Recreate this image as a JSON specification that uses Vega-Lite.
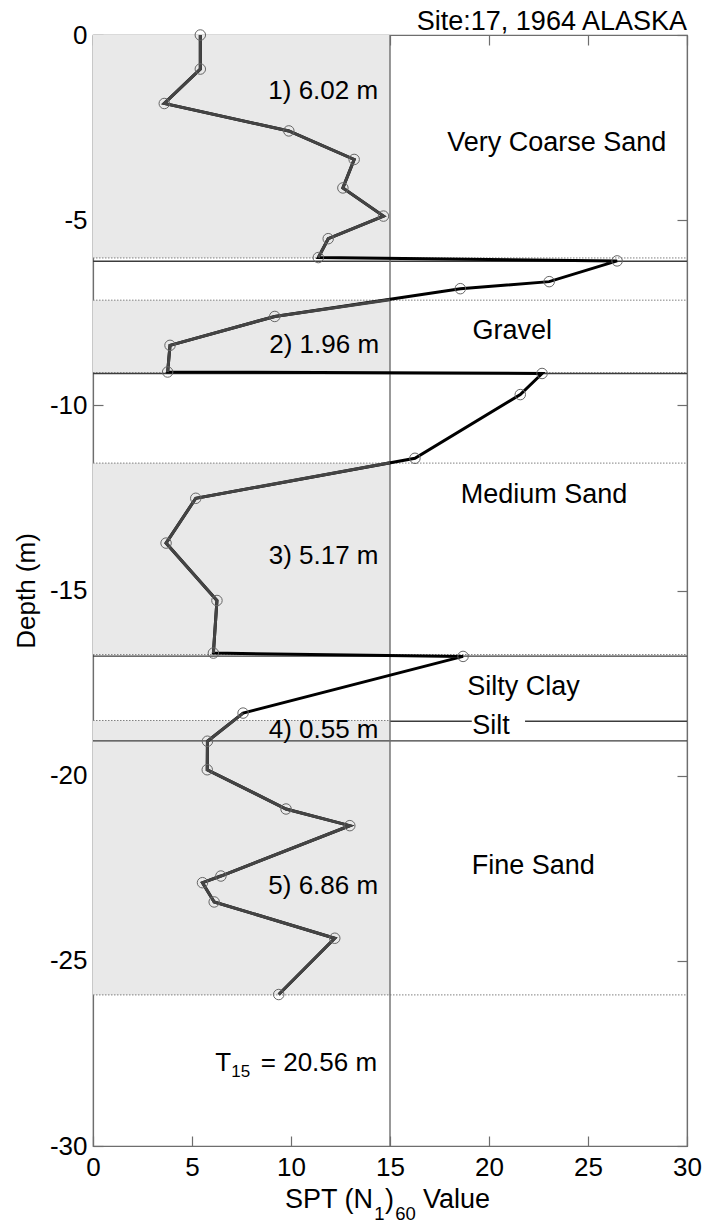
{
  "$schema": "https://vega.github.io/schema/vega-lite/v6.json",
  "width": 594,
  "height": 1111,
  "autosize": "none",
  "padding": {"left": 93, "top": 35, "right": 18, "bottom": 78},
  "background": "white",
  "config": {
    "view": {"stroke": "#6e6e6e", "strokeWidth": 1.2},
    "font": "Liberation Sans",
    "axis": {"labelFontSize": 26, "labelFont": "Liberation Sans", "labelColor": "black", "tickColor": "#6e6e6e", "domainColor": "#6e6e6e", "titleFont": "Liberation Sans", "titleFontSize": 26, "titleFontWeight": "normal", "titleColor": "black", "grid": false, "tickSize": -10, "zindex": 1, "labelFlush": false, "labelOverlap": false, "tickWidth": 1.2, "domainWidth": 1.2}
  },
  "datasets": {
    "layers": [
      {"n0": 0, "n1": 15, "top": 0, "bot": -6.02},
      {"n0": 0, "n1": 15, "top": -7.16, "bot": -9.12},
      {"n0": 0, "n1": 15, "top": -11.56, "bot": -16.73},
      {"n0": 0, "n1": 15, "top": -18.51, "bot": -19.06},
      {"n0": 0, "n1": 15, "top": -19.06, "bot": -25.92}
    ],
    "dotted": [
      {"d": -6.02, "a": 0, "b": 30},
      {"d": -7.16, "a": 0, "b": 30},
      {"d": -9.12, "a": 0, "b": 30},
      {"d": -11.56, "a": 0, "b": 30},
      {"d": -16.73, "a": 0, "b": 30},
      {"d": -18.51, "a": 0, "b": 15},
      {"d": -25.92, "a": 0, "b": 30}
    ],
    "solid": [
      {"d": -6.11, "a": 0, "b": 30},
      {"d": -9.14, "a": 0, "b": 30},
      {"d": -16.77, "a": 0, "b": 30},
      {"d": -19.06, "a": 0, "b": 30},
      {"d": -18.53, "a": 15, "b": 19.13},
      {"d": -18.53, "a": 21.82, "b": 30}
    ],
    "vline": [{"n": 15}],
    "profile": [
      {"i": 1, "n": 5.42, "d": 0},
      {"i": 2, "n": 5.42, "d": -0.92},
      {"i": 3, "n": 3.6, "d": -1.85},
      {"i": 4, "n": 9.89, "d": -2.59},
      {"i": 5, "n": 13.19, "d": -3.36},
      {"i": 6, "n": 12.62, "d": -4.13},
      {"i": 7, "n": 14.67, "d": -4.89},
      {"i": 8, "n": 11.88, "d": -5.5},
      {"i": 9, "n": 11.38, "d": -6.01},
      {"i": 10, "n": 26.47, "d": -6.1},
      {"i": 11, "n": 23.04, "d": -6.66},
      {"i": 12, "n": 18.55, "d": -6.85},
      {"i": 13, "n": 9.18, "d": -7.6},
      {"i": 14, "n": 3.89, "d": -8.38},
      {"i": 15, "n": 3.77, "d": -9.1},
      {"i": 16, "n": 22.68, "d": -9.14},
      {"i": 17, "n": 21.58, "d": -9.71},
      {"i": 18, "n": 16.26, "d": -11.43},
      {"i": 19, "n": 5.19, "d": -12.51},
      {"i": 20, "n": 3.69, "d": -13.72},
      {"i": 21, "n": 6.26, "d": -15.27},
      {"i": 22, "n": 6.08, "d": -16.69},
      {"i": 23, "n": 18.69, "d": -16.78},
      {"i": 24, "n": 7.58, "d": -18.31},
      {"i": 25, "n": 5.78, "d": -19.07},
      {"i": 26, "n": 5.77, "d": -19.84},
      {"i": 27, "n": 9.75, "d": -20.9},
      {"i": 28, "n": 12.97, "d": -21.35},
      {"i": 29, "n": 6.46, "d": -22.71},
      {"i": 30, "n": 5.53, "d": -22.89},
      {"i": 31, "n": 6.12, "d": -23.41},
      {"i": 32, "n": 12.21, "d": -24.39},
      {"i": 33, "n": 9.38, "d": -25.91}
    ],
    "grayparts": [
      {"g": 1, "i": 1, "n": 5.42, "d": 0},
      {"g": 1, "i": 2, "n": 5.42, "d": -0.92},
      {"g": 1, "i": 3, "n": 3.6, "d": -1.85},
      {"g": 1, "i": 4, "n": 9.89, "d": -2.59},
      {"g": 1, "i": 5, "n": 13.19, "d": -3.36},
      {"g": 1, "i": 6, "n": 12.62, "d": -4.13},
      {"g": 1, "i": 7, "n": 14.67, "d": -4.89},
      {"g": 1, "i": 8, "n": 11.88, "d": -5.5},
      {"g": 1, "i": 9, "n": 11.38, "d": -6.01},
      {"g": 2, "i": 12.5, "n": 15, "d": -7.15},
      {"g": 2, "i": 13, "n": 9.18, "d": -7.6},
      {"g": 2, "i": 14, "n": 3.89, "d": -8.38},
      {"g": 2, "i": 15, "n": 3.77, "d": -9.1},
      {"g": 3, "i": 18.5, "n": 15, "d": -11.55},
      {"g": 3, "i": 19, "n": 5.19, "d": -12.51},
      {"g": 3, "i": 20, "n": 3.69, "d": -13.72},
      {"g": 3, "i": 21, "n": 6.26, "d": -15.27},
      {"g": 3, "i": 22, "n": 6.08, "d": -16.69},
      {"g": 4, "i": 24, "n": 7.58, "d": -18.31},
      {"g": 4, "i": 25, "n": 5.78, "d": -19.07},
      {"g": 4, "i": 26, "n": 5.77, "d": -19.84},
      {"g": 4, "i": 27, "n": 9.75, "d": -20.9},
      {"g": 4, "i": 28, "n": 12.97, "d": -21.35},
      {"g": 4, "i": 29, "n": 6.46, "d": -22.71},
      {"g": 4, "i": 30, "n": 5.53, "d": -22.89},
      {"g": 4, "i": 31, "n": 6.12, "d": -23.41},
      {"g": 4, "i": 32, "n": 12.21, "d": -24.39},
      {"g": 4, "i": 33, "n": 9.38, "d": -25.91}
    ],
    "heading": [{"label": "Site:17, 1964 ALASKA", "n": 30, "d": 0.135}],
    "soil": [
      {"label": "Very Coarse Sand", "n": 23.42, "d": -2.92},
      {"label": "Gravel", "n": 21.18, "d": -7.98},
      {"label": "Medium Sand", "n": 22.78, "d": -12.42},
      {"label": "Silty Clay", "n": 21.74, "d": -17.61},
      {"label": "Silt", "n": 20.1, "d": -18.67},
      {"label": "Fine Sand", "n": 22.24, "d": -22.45}
    ],
    "thick": [
      {"label": "1) 6.02 m", "n": 14.4, "d": -1.51},
      {"label": "2) 1.96 m", "n": 14.45, "d": -8.37},
      {"label": "3) 5.17 m", "n": 14.42, "d": -14.08},
      {"label": "4) 0.55 m", "n": 14.42, "d": -18.78},
      {"label": "5) 6.86 m", "n": 14.4, "d": -22.98}
    ],
    "tbig": [{"label": "T", "n": 6.17, "d": -27.97}],
    "tsub": [{"label": "15", "n": 6.98, "d": -28.14}],
    "tval": [{"label": "= 20.56 m", "n": 14.35, "d": -27.97}],
    "xtmain": [
      {"label": "SPT (N", "n": 9.7, "d": -31.68},
      {"label": ")", "n": 14.75, "d": -31.68},
      {"label": "Value", "n": 16.67, "d": -31.68}
    ],
    "xtsub": [
      {"label": "1", "n": 14.2, "d": -32.0},
      {"label": "60", "n": 15.26, "d": -32.0}
    ]
  },
  "layer": [
    {
      "data": {"name": "layers"},
      "mark": {"type": "rect", "color": "#e9e9e9"},
      "encoding": {
        "x": {"field": "n0", "type": "quantitative", "scale": {"domain": [0, 30]}, "axis": {"orient": "bottom", "values": [0, 5, 10, 15, 20, 25, 30], "labelPadding": 18, "title": null}},
        "x2": {"field": "n1"},
        "y": {"field": "top", "type": "quantitative", "scale": {"domain": [-30, 0]}, "axis": {"orient": "left", "values": [0, -5, -10, -15, -20, -25, -30], "labelPadding": 16, "title": "Depth (m)", "titlePadding": 10, "labelExpr": "datum.value == 0 ? '0' : '-' + abs(datum.value)"}},
        "y2": {"field": "bot"}
      }
    },
    {
      "data": {"name": "dotted"},
      "mark": {"type": "rule", "color": "#808080", "strokeWidth": 1, "strokeDash": [1.5, 1.5]},
      "encoding": {
        "x": {"field": "a", "type": "quantitative", "scale": {"domain": [0, 30]}, "axis": null},
        "x2": {"field": "b"},
        "y": {"field": "d", "type": "quantitative", "scale": {"domain": [-30, 0]}, "axis": null}
      }
    },
    {
      "data": {"name": "solid"},
      "mark": {"type": "rule", "color": "#3c3c3c", "strokeWidth": 1.3},
      "encoding": {
        "x": {"field": "a", "type": "quantitative", "scale": {"domain": [0, 30]}, "axis": null},
        "x2": {"field": "b"},
        "y": {"field": "d", "type": "quantitative", "scale": {"domain": [-30, 0]}, "axis": null}
      }
    },
    {
      "data": {"name": "vline"},
      "mark": {"type": "rule", "color": "#6e6e6e", "strokeWidth": 1.4},
      "encoding": {
        "x": {"field": "n", "type": "quantitative", "scale": {"domain": [0, 30]}, "axis": null}
      }
    },
    {
      "data": {"name": "profile"},
      "mark": {"type": "line", "color": "#000000", "strokeWidth": 3},
      "encoding": {
        "x": {"field": "n", "type": "quantitative", "scale": {"domain": [0, 30]}, "axis": {"orient": "top", "values": [0, 5, 10, 15, 20, 25, 30], "labels": false, "title": null}},
        "y": {"field": "d", "type": "quantitative", "scale": {"domain": [-30, 0]}, "axis": {"orient": "right", "values": [0, -5, -10, -15, -20, -25, -30], "labels": false, "title": null}},
        "order": {"field": "i", "type": "quantitative"}
      }
    },
    {
      "data": {"name": "grayparts"},
      "mark": {"type": "line", "color": "#444444", "strokeWidth": 3},
      "encoding": {
        "x": {"field": "n", "type": "quantitative", "scale": {"domain": [0, 30]}, "axis": null},
        "y": {"field": "d", "type": "quantitative", "scale": {"domain": [-30, 0]}, "axis": null},
        "detail": {"field": "g", "type": "nominal"},
        "order": {"field": "i", "type": "quantitative"}
      }
    },
    {
      "data": {"name": "profile"},
      "mark": {"type": "point", "shape": "circle", "filled": false, "stroke": "#666666", "strokeWidth": 1, "size": 110, "opacity": 1},
      "encoding": {
        "x": {"field": "n", "type": "quantitative", "scale": {"domain": [0, 30]}, "axis": null},
        "y": {"field": "d", "type": "quantitative", "scale": {"domain": [-30, 0]}, "axis": null}
      }
    },
    {
      "data": {"name": "heading"},
      "mark": {"type": "text", "font": "Liberation Sans", "fontSize": 27, "color": "black", "align": "right", "baseline": "alphabetic"},
      "encoding": {
        "x": {"field": "n", "type": "quantitative", "scale": {"domain": [0, 30]}, "axis": null},
        "y": {"field": "d", "type": "quantitative", "scale": {"domain": [-30, 0]}, "axis": null},
        "text": {"field": "label"}
      }
    },
    {
      "data": {"name": "soil"},
      "mark": {"type": "text", "font": "Liberation Sans", "fontSize": 27, "color": "black", "align": "center", "baseline": "middle"},
      "encoding": {
        "x": {"field": "n", "type": "quantitative", "scale": {"domain": [0, 30]}, "axis": null},
        "y": {"field": "d", "type": "quantitative", "scale": {"domain": [-30, 0]}, "axis": null},
        "text": {"field": "label"}
      }
    },
    {
      "data": {"name": "thick"},
      "mark": {"type": "text", "font": "Liberation Sans", "fontSize": 26, "color": "black", "align": "right", "baseline": "middle"},
      "encoding": {
        "x": {"field": "n", "type": "quantitative", "scale": {"domain": [0, 30]}, "axis": null},
        "y": {"field": "d", "type": "quantitative", "scale": {"domain": [-30, 0]}, "axis": null},
        "text": {"field": "label"}
      }
    },
    {
      "data": {"name": "tbig"},
      "mark": {"type": "text", "font": "Liberation Sans", "fontSize": 26, "color": "black", "align": "left", "baseline": "alphabetic"},
      "encoding": {
        "x": {"field": "n", "type": "quantitative", "scale": {"domain": [0, 30]}, "axis": null},
        "y": {"field": "d", "type": "quantitative", "scale": {"domain": [-30, 0]}, "axis": null},
        "text": {"field": "label"}
      }
    },
    {
      "data": {"name": "tsub"},
      "mark": {"type": "text", "font": "Liberation Sans", "fontSize": 17, "color": "black", "align": "left", "baseline": "alphabetic"},
      "encoding": {
        "x": {"field": "n", "type": "quantitative", "scale": {"domain": [0, 30]}, "axis": null},
        "y": {"field": "d", "type": "quantitative", "scale": {"domain": [-30, 0]}, "axis": null},
        "text": {"field": "label"}
      }
    },
    {
      "data": {"name": "tval"},
      "mark": {"type": "text", "font": "Liberation Sans", "fontSize": 26, "color": "black", "align": "right", "baseline": "alphabetic"},
      "encoding": {
        "x": {"field": "n", "type": "quantitative", "scale": {"domain": [0, 30]}, "axis": null},
        "y": {"field": "d", "type": "quantitative", "scale": {"domain": [-30, 0]}, "axis": null},
        "text": {"field": "label"}
      }
    },
    {
      "data": {"name": "xtmain"},
      "mark": {"type": "text", "font": "Liberation Sans", "fontSize": 27, "color": "black", "align": "left", "baseline": "alphabetic"},
      "encoding": {
        "x": {"field": "n", "type": "quantitative", "scale": {"domain": [0, 30]}, "axis": null},
        "y": {"field": "d", "type": "quantitative", "scale": {"domain": [-30, 0]}, "axis": null},
        "text": {"field": "label"}
      }
    },
    {
      "data": {"name": "xtsub"},
      "mark": {"type": "text", "font": "Liberation Sans", "fontSize": 18.5, "color": "black", "align": "left", "baseline": "alphabetic"},
      "encoding": {
        "x": {"field": "n", "type": "quantitative", "scale": {"domain": [0, 30]}, "axis": null},
        "y": {"field": "d", "type": "quantitative", "scale": {"domain": [-30, 0]}, "axis": null},
        "text": {"field": "label"}
      }
    }
  ],
  "resolve": {"axis": {"x": "independent", "y": "independent"}}
}
